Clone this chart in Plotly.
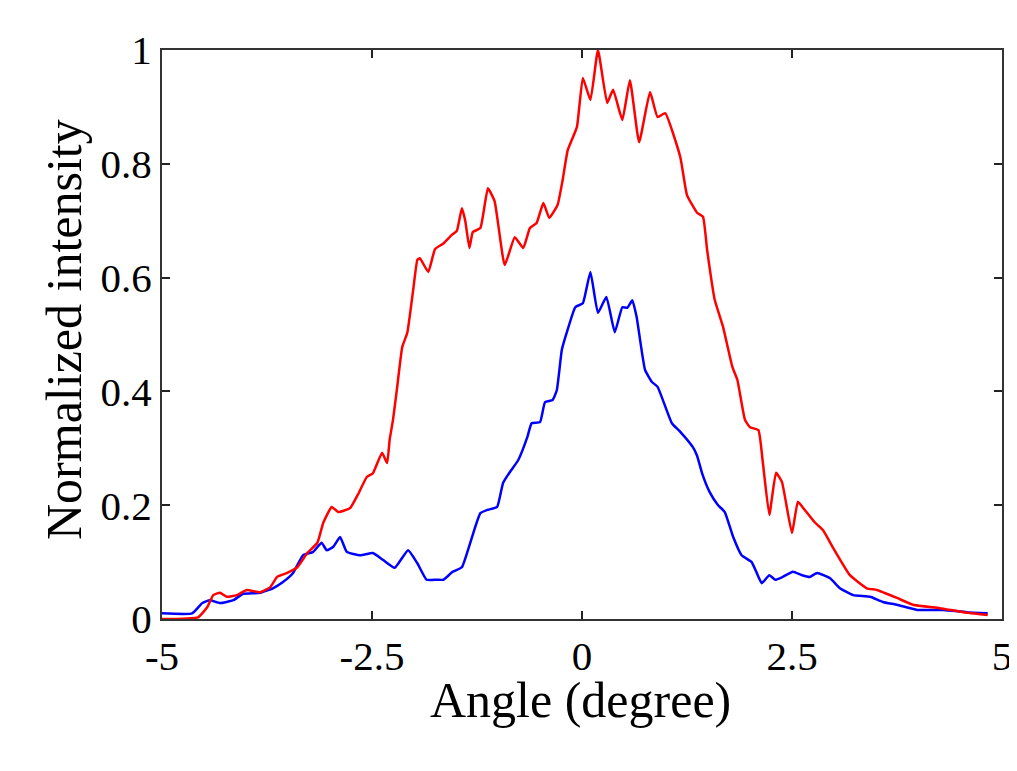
import plotly.graph_objects as go

# Red curve (higher intensity)
red_x = [-5.0, -4.57, -4.46, -4.39, -4.31, -4.23, -4.11, -3.99, -3.83, -3.71, -3.63, -3.51, -3.39,
         -3.27, -3.15, -3.08, -2.98, -2.90, -2.76, -2.67, -2.56, -2.49, -2.38, -2.32, -2.29, -2.25,
         -2.20, -2.14, -2.08, -2.01, -1.96, -1.93, -1.83, -1.75, -1.65, -1.55, -1.49, -1.43, -1.39,
         -1.34, -1.30, -1.21, -1.12, -1.04, -0.92, -0.80, -0.70, -0.62, -0.54, -0.46, -0.39, -0.29,
         -0.23, -0.17, -0.06, 0.01, 0.10, 0.19, 0.30, 0.37, 0.48, 0.57, 0.68, 0.81, 0.90, 0.99, 1.17,
         1.25, 1.37, 1.44, 1.49, 1.58, 1.68, 1.79, 1.85, 1.94, 2.00, 2.10, 2.15, 2.23, 2.31, 2.38,
         2.50, 2.57, 2.65, 2.77, 2.87, 2.99, 3.19, 3.39, 3.51, 3.75, 3.94, 4.26, 4.54, 4.83]
red_y = [0.0, 0.003, 0.021, 0.042, 0.046, 0.039, 0.042, 0.051, 0.047, 0.056, 0.074, 0.081, 0.091,
         0.116, 0.134, 0.169, 0.197, 0.188, 0.195, 0.218, 0.250, 0.256, 0.292, 0.274, 0.315, 0.350,
         0.408, 0.478, 0.503, 0.578, 0.631, 0.634, 0.610, 0.650, 0.660, 0.675, 0.682, 0.722, 0.700,
         0.652, 0.680, 0.687, 0.757, 0.734, 0.622, 0.671, 0.652, 0.687, 0.696, 0.731, 0.705, 0.728,
         0.772, 0.824, 0.865, 0.951, 0.912, 1.0, 0.907, 0.930, 0.877, 0.947, 0.838, 0.926, 0.882,
         0.889, 0.812, 0.745, 0.714, 0.707, 0.648, 0.561, 0.513, 0.443, 0.420, 0.350, 0.337, 0.332,
         0.279, 0.183, 0.257, 0.241, 0.151, 0.206, 0.192, 0.170, 0.156, 0.125, 0.077, 0.054, 0.051,
         0.037, 0.025, 0.019, 0.012, 0.007]

# Blue curve (lower intensity)
blue_x = [-5.0, -4.64, -4.52, -4.43, -4.31, -4.15, -4.04, -3.83, -3.68, -3.56, -3.44, -3.32, -3.20,
          -3.10, -3.04, -2.96, -2.88, -2.80, -2.64, -2.49, -2.37, -2.23, -2.07, -1.96, -1.85, -1.73,
          -1.65, -1.54, -1.43, -1.33, -1.21, -1.12, -1.01, -0.94, -0.86, -0.76, -0.65, -0.60, -0.50,
          -0.44, -0.35, -0.30, -0.24, -0.18, -0.08, 0.01, 0.10, 0.19, 0.29, 0.39, 0.48, 0.54, 0.60,
          0.65, 0.75, 0.83, 0.90, 1.07, 1.17, 1.32, 1.37, 1.43, 1.52, 1.62, 1.70, 1.80, 1.90, 2.02,
          2.08, 2.14, 2.23, 2.30, 2.39, 2.51, 2.62, 2.71, 2.80, 2.95, 3.07, 3.23, 3.43, 3.58, 3.75,
          3.99, 4.30, 4.58, 4.83]
blue_y = [0.010, 0.010, 0.028, 0.033, 0.028, 0.033, 0.044, 0.046, 0.054, 0.065, 0.081, 0.112, 0.118,
          0.134, 0.121, 0.127, 0.144, 0.118, 0.112, 0.116, 0.104, 0.090, 0.121, 0.098, 0.069, 0.069,
          0.069, 0.083, 0.091, 0.134, 0.186, 0.192, 0.197, 0.239, 0.258, 0.279, 0.320, 0.344, 0.346,
          0.381, 0.385, 0.402, 0.473, 0.504, 0.548, 0.555, 0.610, 0.538, 0.566, 0.504, 0.548, 0.547,
          0.560, 0.531, 0.438, 0.417, 0.408, 0.344, 0.329, 0.302, 0.287, 0.256, 0.223, 0.200, 0.188,
          0.144, 0.112, 0.100, 0.081, 0.063, 0.077, 0.069, 0.074, 0.083, 0.077, 0.074, 0.081, 0.072,
          0.054, 0.042, 0.039, 0.030, 0.025, 0.016, 0.016, 0.012, 0.010]

x_tickvals = [-5, -2.5, 0, 2.5, 5]
x_ticktext = ["-5", "-2.5", "0", "2.5", "5"]
y_tickvals = [0, 0.2, 0.4, 0.6, 0.8, 1]
y_ticktext = ["0", "0.2", "0.4", "0.6", "0.8", "1"]
x_title = "Angle (degree)"
y_title = "Normalized intensity"

fig = go.Figure()
fig.add_trace(go.Scatter(x=blue_x, y=blue_y, mode="lines", line_shape="spline",
                         line=dict(color="#0000ff", width=2.5, smoothing=0.4), showlegend=False))
fig.add_trace(go.Scatter(x=red_x, y=red_y, mode="lines", line_shape="spline",
                         line=dict(color="#ff0000", width=2.5, smoothing=0.4), showlegend=False))

font_family = "Liberation Serif, Times New Roman, serif"
axis_common = dict(showline=True, linecolor="#333333", linewidth=2, mirror="ticks",
                   ticks="inside", ticklen=8, tickwidth=2, tickcolor="#222222",
                   showgrid=False, zeroline=False, ticklabeloverflow="allow", automargin=False,
                   tickfont=dict(family=font_family, size=41, color="black"))

# The page body adds an 8px margin on each side; the figure is sized to fit without overflow.
fig.update_layout(
    width=1001, height=755,
    margin=dict(l=154, r=7, t=42, b=144, autoexpand=False),
    paper_bgcolor="white", plot_bgcolor="white",
    xaxis=dict(range=[-5, 5], tickvals=x_tickvals, ticktext=x_ticktext, **axis_common),
    yaxis=dict(range=[0, 1], tickvals=y_tickvals, ticktext=y_ticktext, **axis_common),
    annotations=[
        dict(text=x_title, xref="paper", yref="paper", x=(572 - 154) / 840, y=(611 - 692) / 569,
             xanchor="center", yanchor="middle", showarrow=False,
             font=dict(family=font_family, size=50, color="black")),
        dict(text=y_title, xref="paper", yref="paper", x=(56 - 154) / 840, y=(611 - 322) / 569,
             xanchor="center", yanchor="middle", showarrow=False, textangle=-90,
             font=dict(family=font_family, size=50, color="black")),
    ],
)

fig.write_html("out.html")
